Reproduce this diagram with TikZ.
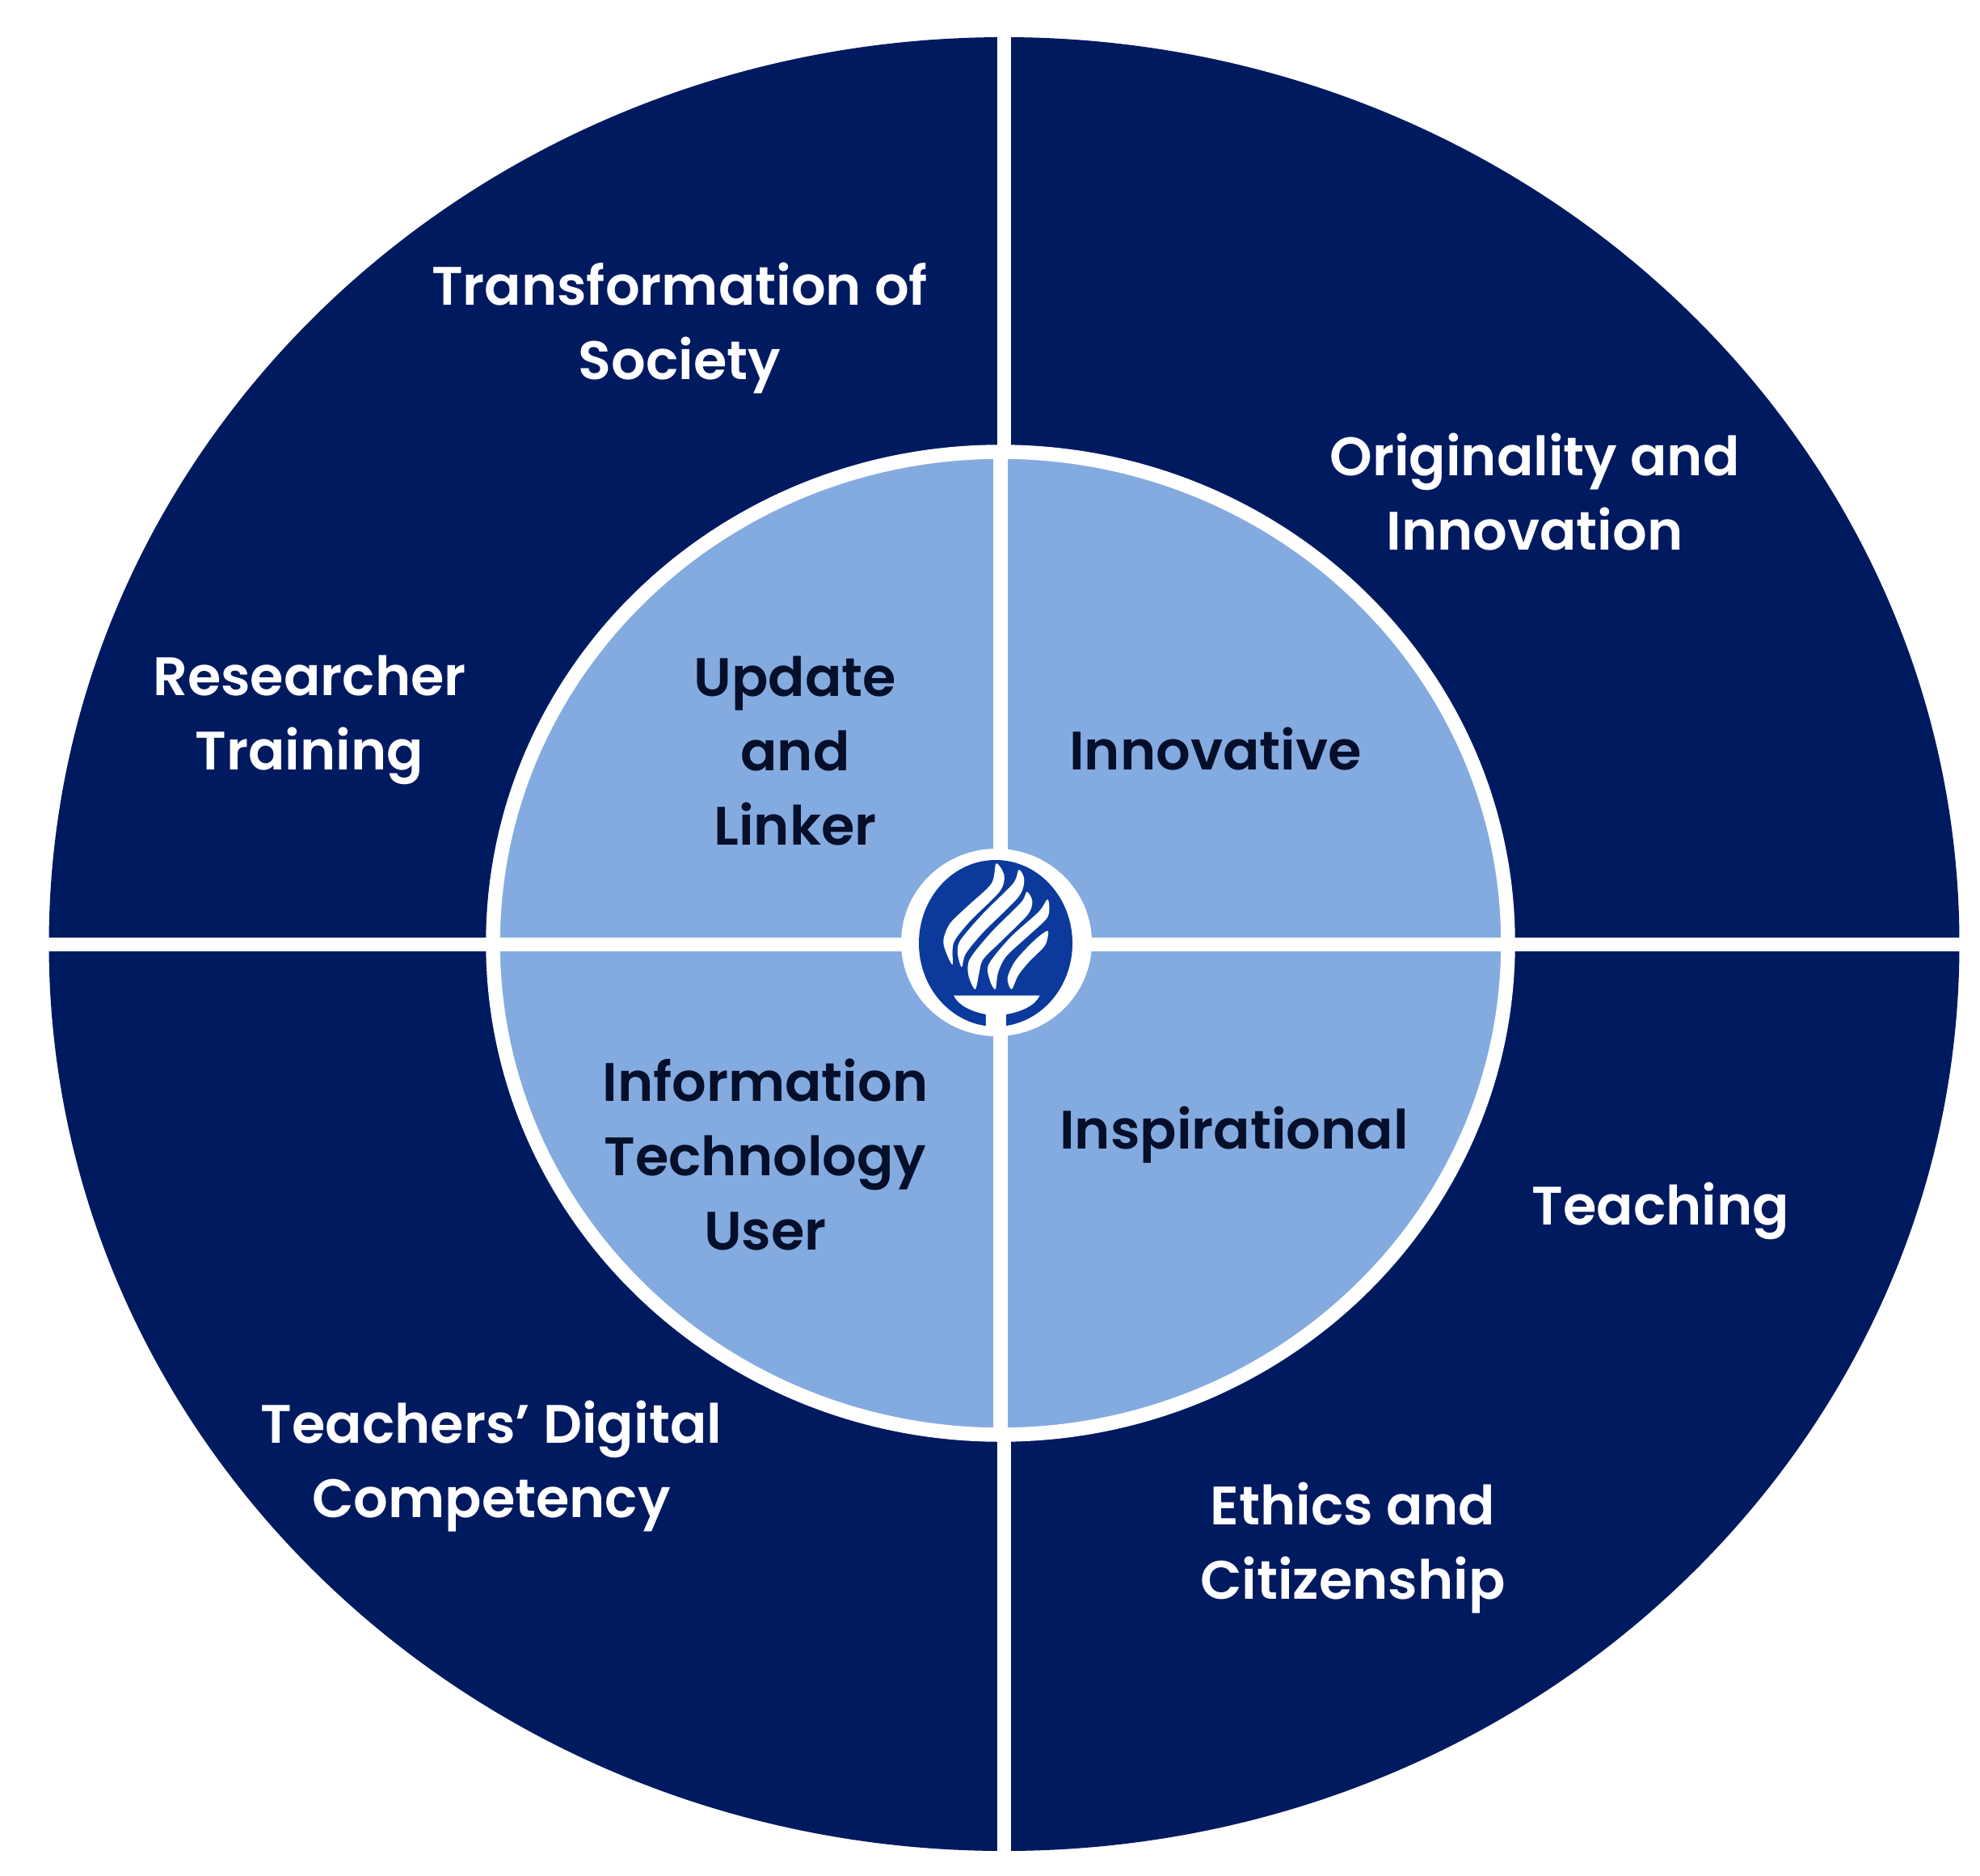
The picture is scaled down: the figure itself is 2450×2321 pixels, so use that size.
\documentclass[tikz,border=0pt]{standalone}
\usepackage{fontspec}
\setmainfont{Poppins}[BoldFont={Poppins SemiBold}]
\definecolor{navy}{HTML}{001A60}
\definecolor{sky}{HTML}{84ABDF}
\definecolor{inktext}{HTML}{050F2A}
\definecolor{logoblue}{HTML}{0B3A9C}
\tikzset{
  outerlabel/.style={text=white,align=center,font=\fontsize{67}{92}\selectfont\bfseries},
  innerlabel/.style={text=inktext,align=center,font=\fontsize{67}{92}\selectfont\bfseries},
  divider/.style={draw=white,line width=17.5pt},
  flame/.style={fill=white,draw=none}
}
\begin{document}
\begin{tikzpicture}[x=1pt,y=-1pt]
\useasboundingbox (0,0) rectangle (2450,2321);
\fill[white] (0,0) rectangle (2450,2321);
% outer disc
\fill[navy] (1242.5,1168) ellipse [x radius=1182,y radius=1122];
\draw[divider] (1242.5,40) -- (1242.5,559);
\draw[divider] (1242.5,1775) -- (1242.5,2296);
\draw[divider] (54,1168.5) -- (2431,1168.5);
% inner disc
\draw[divider,fill=sky] (1238,1167) ellipse [x radius=628,y radius=608];
\draw[divider] (1238,559) -- (1238,1775);
\draw[divider] (610,1168.5) -- (1866,1168.5);
% logo
\fill[white] (1233,1166) ellipse [x radius=118,y radius=116];
\fill[logoblue] (1232,1167) ellipse [x radius=95,y radius=103];
\begin{scope}[shift={(1050,1000)},x=0.3333pt,y=-0.3333pt]
\fill[flame] plot[smooth cycle,tension=0.5] coordinates {(548,205) (530,280) (440,365) (375,430) (352,500) (385,580) (390,500) (450,420) (560,310) (578,250)};
\fill[flame] plot[smooth cycle,tension=0.5] coordinates {(632,228) (610,280) (500,390) (415,490) (405,540) (420,590) (435,540) (500,460) (630,330) (652,265)};
\fill[flame] plot[smooth cycle,tension=0.5] coordinates {(662,310) (640,350) (530,460) (450,560) (445,620) (470,672) (485,610) (500,560) (570,490) (665,395) (682,345)};
\fill[flame] plot[smooth cycle,tension=0.5] coordinates {(738,338) (705,385) (600,480) (520,580) (525,640) (545,672) (555,610) (585,550) (660,480) (735,410) (745,370)};
\fill[flame] plot[smooth cycle,tension=0.5] coordinates {(738,455) (690,490) (620,565) (590,630) (605,672) (630,620) (670,570) (725,515) (738,485)};
\fill[flame] (390,695) -- (710,695) .. controls (690,735) and (640,755) .. (585,765) -- (585,840) -- (510,840) -- (510,765) .. controls (460,755) and (410,735) .. (390,695) -- cycle;
\end{scope}
% labels
\node[outerlabel] (society) at (841,406) {Transformation of\\Society};
\node[outerlabel] (original) at (1899,609) {Originality and\\Innovation};
\node[outerlabel] (research) at (383,891) {Researcher\\Training};
\node[outerlabel] (teaching) at (2055,1498) {Teaching};
\node[outerlabel] (digital) at (608,1814) {Teachers’ Digital\\Competency};
\node[outerlabel] (ethics) at (1674,1915) {Ethics and\\Citizenship};
\node[innerlabel] (update) at (984,929) {Update\\and\\Linker};
\node[innerlabel] (innov) at (1504,927) {Innovative};
\node[innerlabel] (itu) at (947,1429) {Information\\Technology\\User};
\node[innerlabel] (inspire) at (1527,1404) {Inspirational};
\end{tikzpicture}
\end{document}
